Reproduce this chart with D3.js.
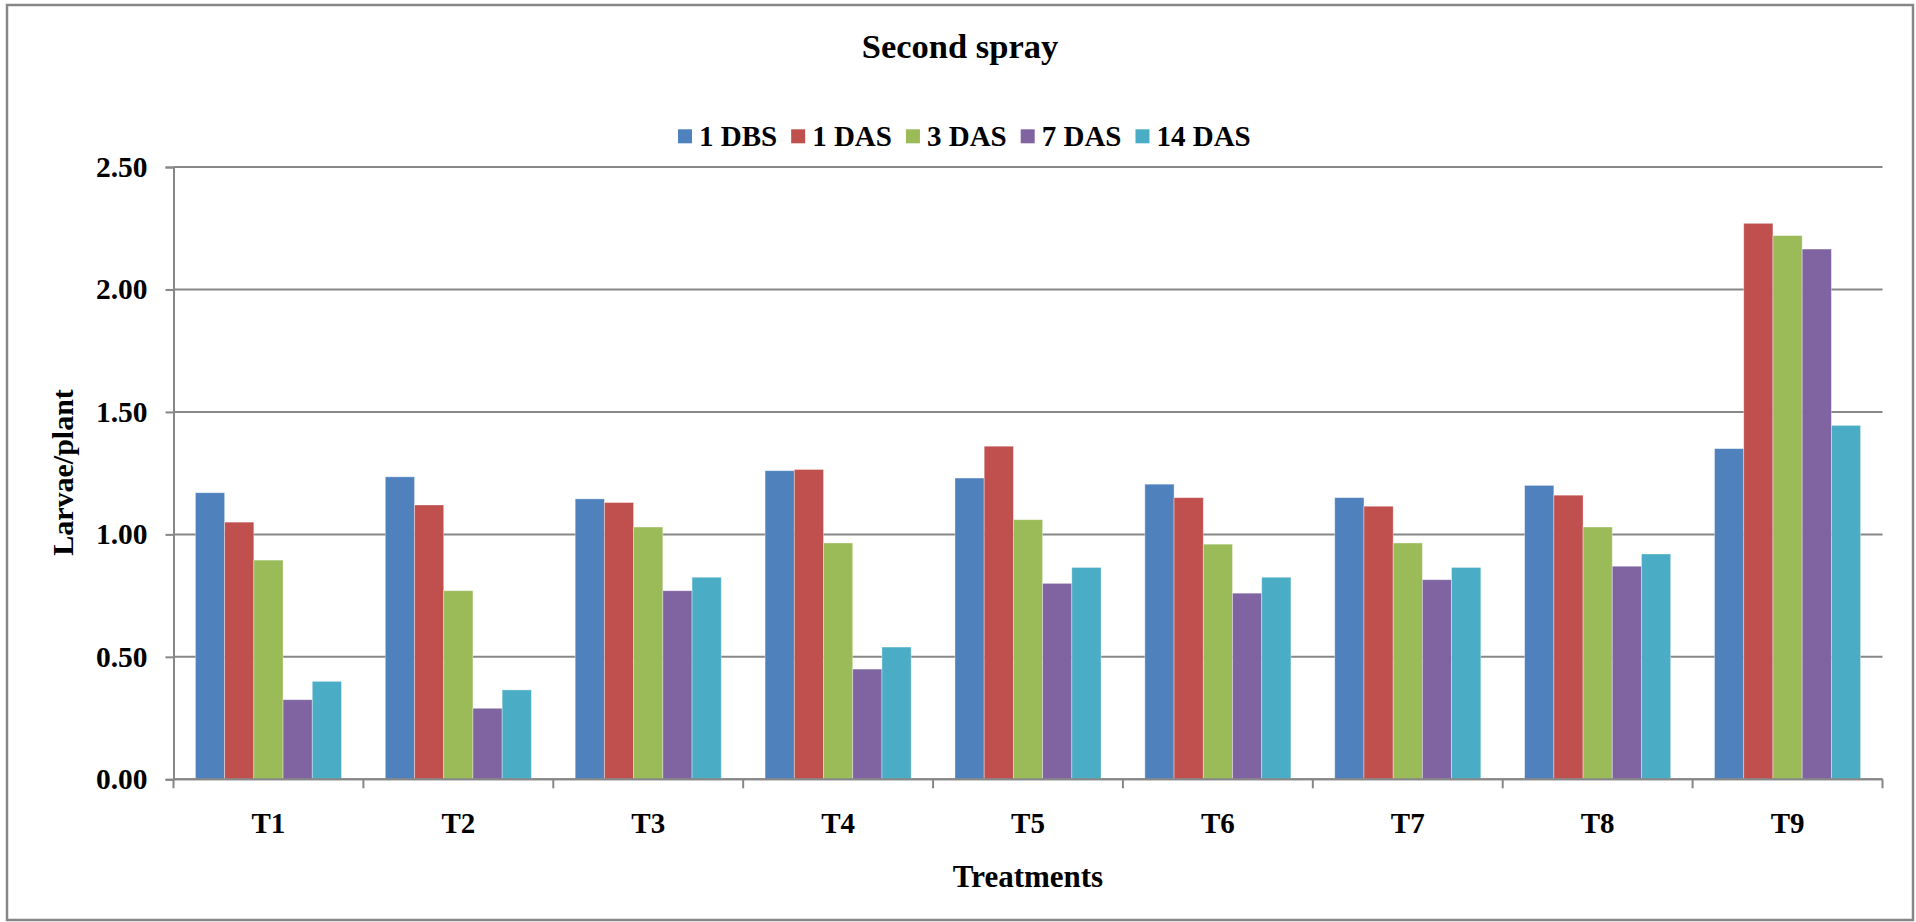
<!DOCTYPE html>
<html lang="en">
<head>
<meta charset="UTF-8">
<title>Second spray</title>
<script src="https://d3js.org/d3.v7.min.js"></script>
<style>
  body { margin: 0; background: #fff; }
  text { font-family: "Liberation Serif", "Times New Roman", serif; font-weight: bold; fill: #000; }
</style>
</head>
<body>
<svg width="1916" height="922"></svg>
<script>
    // chart data
    const treatments = ["T1", "T2", "T3", "T4", "T5", "T6", "T7", "T8", "T9"];
    const seriesNames = ["1 DBS", "1 DAS", "3 DAS", "7 DAS", "14 DAS"];
    const dbs1  = [1.17, 1.235, 1.145, 1.26, 1.23, 1.205, 1.15, 1.20, 1.35];
    const das1  = [1.05, 1.12, 1.13, 1.265, 1.36, 1.15, 1.115, 1.16, 2.27];
    const das3  = [0.895, 0.77, 1.03, 0.965, 1.06, 0.96, 0.965, 1.03, 2.22];
    const das7  = [0.325, 0.29, 0.77, 0.45, 0.80, 0.76, 0.815, 0.87, 2.165];
    const das14 = [0.40, 0.365, 0.825, 0.54, 0.865, 0.825, 0.865, 0.92, 1.445];
    const yTicks = [0, 0.5, 1.0, 1.5, 2.0, 2.5];
    const colors = ["#4F81BD", "#C0504D", "#9BBB59", "#8064A2", "#4BACC6"];

    const seriesValues = [dbs1, das1, das3, das7, das14];

    const svg = d3.select("svg");
    const plotLeft = 173.5, plotRight = 1882.5, plotTop = 167, plotBottom = 779.3;

    // outer frame
    svg.append("rect")
        .attr("x", 7).attr("y", 5)
        .attr("width", 1906).attr("height", 915)
        .attr("fill", "none")
        .attr("stroke", "#878787")
        .attr("stroke-width", 2.5);

    const x0 = d3.scaleBand().domain(treatments).range([plotLeft, plotRight]).padding(0);
    const bw = x0.bandwidth() / 6.5; // excel gap width 150%
    const x1 = d3.scaleBand().domain(seriesNames).range([0.75 * bw, 5.75 * bw]).padding(0);
    const y = d3.scaleLinear().domain([0, 2.5]).range([plotBottom, plotTop]);

    // gridlines
    svg.append("g")
        .selectAll("line")
        .data(yTicks)
        .join("line")
        .attr("x1", plotLeft).attr("x2", plotRight)
        .attr("y1", d => y(d)).attr("y2", d => y(d))
        .attr("stroke", "#878787")
        .attr("stroke-width", 2);

    // y axis
    const yAxis = svg.append("g")
        .attr("transform", `translate(${plotLeft},0)`)
        .call(d3.axisLeft(y).tickValues(yTicks).tickFormat(d3.format(".2f")).tickSize(8).tickPadding(18));
    yAxis.select(".domain").attr("stroke", "#878787").attr("stroke-width", 2);
    yAxis.selectAll(".tick line").attr("stroke", "#878787").attr("stroke-width", 2);
    yAxis.selectAll(".tick text")
        .attr("font-size", 29.5)
        .attr("font-family", "Liberation Serif, Times New Roman, serif")
        .attr("font-weight", "bold")
        .attr("fill", "#000");

    // bars
    const groups = svg.append("g")
        .selectAll("g")
        .data(treatments)
        .join("g")
        .attr("transform", d => `translate(${x0(d)},0)`);

    groups.selectAll("rect")
        .data((d, i) => seriesNames.map((s, j) => ({ s: s, v: seriesValues[j][i], c: colors[j] })))
        .join("rect")
        .attr("x", d => x1(d.s))
        .attr("width", x1.bandwidth())
        .attr("y", d => y(d.v))
        .attr("height", d => y(0) - y(d.v))
        .attr("fill", d => d.c)
        .attr("stroke", "rgba(255,255,255,0.45)")
        .attr("stroke-width", 0.8);

    // x axis line and ticks at band boundaries
    svg.append("line")
        .attr("x1", plotLeft).attr("x2", plotRight)
        .attr("y1", plotBottom).attr("y2", plotBottom)
        .attr("stroke", "#878787").attr("stroke-width", 2);
    const bounds = treatments.map(d => x0(d)).concat([plotRight]);
    svg.append("g").selectAll("line")
        .data(bounds)
        .join("line")
        .attr("x1", d => d).attr("x2", d => d)
        .attr("y1", plotBottom).attr("y2", plotBottom + 9)
        .attr("stroke", "#878787").attr("stroke-width", 2);

    svg.append("g").selectAll("text")
        .data(treatments)
        .join("text")
        .attr("x", d => x0(d) + x0.bandwidth() / 2)
        .attr("y", 833)
        .attr("text-anchor", "middle")
        .attr("font-size", 29)
        .text(d => d);

    // titles
    svg.append("text")
        .attr("x", 960).attr("y", 57.5)
        .attr("text-anchor", "middle")
        .attr("font-size", 34.5)
        .text("Second spray");

    svg.append("text")
        .attr("x", 1028).attr("y", 887)
        .attr("text-anchor", "middle")
        .attr("font-size", 31)
        .text("Treatments");

    svg.append("text")
        .attr("transform", "translate(72.7,472.5) rotate(-90)")
        .attr("text-anchor", "middle")
        .attr("font-size", 30)
        .text("Larvae/plant");

    // legend
    const legend = svg.append("g");
    let lx = 678;
    seriesNames.forEach((s, i) => {
        legend.append("rect")
            .attr("x", lx).attr("y", 129.3)
            .attr("width", 14).attr("height", 14)
            .attr("fill", colors[i]);
        const t = legend.append("text")
            .attr("x", lx + 21).attr("y", 146)
            .attr("font-size", 29)
            .text(s);
        lx += 21 + t.node().getComputedTextLength() + 14;
    });
</script>
</body>
</html>
